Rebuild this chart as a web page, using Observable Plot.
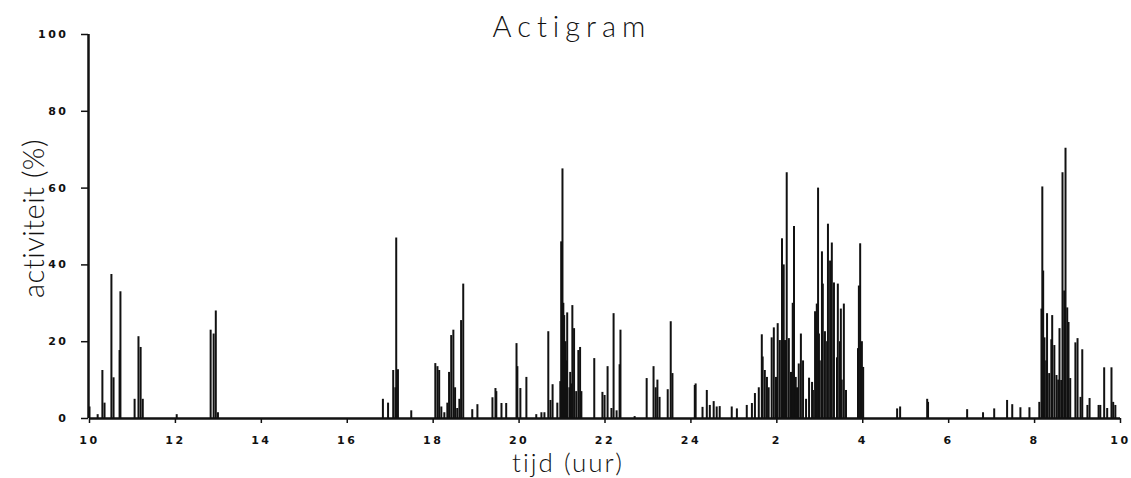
<!DOCTYPE html>
<html><head><meta charset="utf-8">
<script src="https://cdn.jsdelivr.net/npm/d3@7"></script>
<script src="https://cdn.jsdelivr.net/npm/@observablehq/plot@0.6"></script>
<style>
body{margin:0;background:#fff}#chart{width:1131px;height:478px}
#chart g[aria-label$="tick label"] text{letter-spacing:2.5px}
</style>
</head><body><div id="chart"></div>
<script>
// time of day in hours (10 = 10:00, 24 = midnight, 34 = 10:00 next day)
const times = [
10.00,10.19,10.30,10.35,10.51,10.56,10.70,10.72,11.05,11.14,11.19,11.24,12.03,12.82,12.89,12.94,12.99,
16.83,16.95,17.07,17.12,17.14,17.18,17.49,
18.05,18.10,18.14,18.19,18.26,18.33,18.37,18.42,18.47,18.51,18.56,18.61,18.65,18.70,18.91,19.03,
19.38,19.45,19.47,19.59,19.70,19.94,19.96,20.03,20.17,20.40,20.52,20.59,20.68,20.73,20.78,20.89,
20.96,20.98,21.01,21.03,21.05,21.08,21.10,21.12,21.17,21.19,21.22,21.24,21.28,21.33,21.38,21.42,21.45,
21.75,21.94,21.99,22.06,22.15,22.20,22.27,22.34,22.36,22.69,22.97,23.13,23.18,23.22,23.27,23.46,23.53,23.57,
24.09,24.11,24.27,24.37,24.44,24.53,24.60,24.67,24.95,25.07,25.30,25.42,25.49,25.58,
25.65,25.67,25.72,25.77,25.81,25.88,25.93,25.98,26.02,26.07,26.12,26.16,26.19,26.23,26.28,26.33,26.37,26.40,
26.44,26.47,26.51,26.56,26.61,26.68,26.75,26.82,26.84,26.89,26.93,26.96,26.98,27.00,27.05,27.07,27.12,27.17,
27.19,27.24,27.28,27.33,27.40,27.42,27.47,27.49,27.51,27.56,27.61,27.89,27.91,27.94,27.98,28.01,
28.80,28.87,29.50,29.52,30.43,30.80,31.06,31.36,31.48,31.67,31.88,
32.11,32.16,32.18,32.20,32.23,32.27,32.29,32.34,32.39,32.41,32.46,32.51,32.55,32.58,32.62,32.65,32.69,32.72,
32.76,32.79,32.83,32.95,33.00,33.07,33.11,33.23,33.28,33.49,33.53,33.62,33.69,33.79,33.83,33.88
];
// activity (%)
const values = [
3,1,12.5,4,37.5,10.6,17.7,33,5,21.3,18.5,5,1,23,22,28,1.5,
5,4,12.5,8,47,12.7,2,
14.3,13.5,12.5,3,1.5,4,12,21.6,23,8,2.6,5,25.5,35,2.3,3.6,
5.4,7.8,7,3.9,3.9,19.5,13.5,7.8,10.7,1,1.5,1.5,22.6,4.7,8.8,4,
9.6,46,65,30,26.8,20,15,27.5,8,12,9,29.4,23.4,7,17.7,18.5,7,
15.6,6.8,6,13.5,2.6,27.3,2,14,23,0.5,10.4,13.5,8,10,5.5,7.5,25.2,11.7,
8.6,9,2.9,7.3,3.4,4.4,3,3.1,3,2.5,3.4,3.9,6.5,8,
21.8,16,12.5,10.7,8,21,23.6,10.7,24.7,20.3,46.8,40,20.3,64,20.8,12,30,50,
10.7,8,14.2,22,15,5,10.5,9.4,7.3,27.8,29.8,60,22,15,43.4,35,22.6,20,
50.6,41,45.7,35.3,15.8,35,20,28.5,10,29.8,7.3,18.2,34.5,45.5,20,13.3,
2.5,3,5,4.2,2.3,1.5,2.5,4.7,3.6,2.8,2.8,
4.2,28.5,60.3,38.4,21,15,27.3,11.7,20.5,26.8,19,11.2,10,23.4,9.9,64,33.2,70.4,
28.8,25,10.4,19.7,20.8,5.5,17.9,3.4,5.2,3.4,3.4,13.2,2.6,13.2,4.2,3.4
];
const xTicks = [10,12,14,16,18,20,22,24,26,28,30,32,34];
const xTickLabels = ["10","12","14","16","18","20","22","24","2","4","6","8","10"];
const yTicks = [0,20,40,60,80,100];
const titleText = "Actigram";
const xLabel = "tijd (uur)";
const yLabel = "activiteit (%)";

const data = times.map((t, i) => ({t, v: values[i]}));
const ink = "#111";
const labelFont = {fontFamily: "Lato, 'Open Sans', sans-serif", fontWeight: 300, fill: ink};

const chart = Plot.plot({
  width: 1131, height: 478,
  marginLeft: 89, marginRight: 11, marginTop: 34, marginBottom: 60,
  style: {fontFamily: "'DejaVu Sans', sans-serif", fontSize: "11px", fontWeight: "bold", color: ink, background: "#fff"},
  x: {domain: [10, 34]},
  y: {domain: [0, 100]},
  marks: [
    Plot.ruleX(data, {x: "t", y1: 0, y2: "v", stroke: ink, strokeWidth: 2}),
    Plot.ruleY([0], {stroke: ink, strokeWidth: 2.5}),
    Plot.ruleX([10], {y1: 0, y2: 100, stroke: ink, strokeWidth: 2.5, dx: -1}),
    Plot.axisX({ticks: xTicks, tickFormat: d => xTickLabels[xTicks.indexOf(d)], tickSize: 5, tickPadding: 13, label: null, stroke: ink, strokeWidth: 1.5}),
    Plot.axisY({ticks: yTicks, tickSize: 7, tickPadding: 13, label: null, stroke: ink, strokeWidth: 1.5, dx: -1}),
    Plot.text([titleText], {frameAnchor: "top", dx: -33, dy: -7, textAnchor: "middle", lineAnchor: "middle", fontSize: 29, ...labelFont}),
    Plot.text([xLabel], {frameAnchor: "bottom", dx: -37, dy: 45, textAnchor: "middle", lineAnchor: "middle", fontSize: 26, ...labelFont}),
    Plot.text([yLabel], {frameAnchor: "left", dx: -55, dy: -8, rotate: -90, textAnchor: "middle", lineAnchor: "middle", fontSize: 29, ...labelFont})
  ]
});
document.getElementById("chart").appendChild(chart);
// letter spacing of the hand-lettered labels
const spacing = {[titleText]: "6px", [xLabel]: "2px", [yLabel]: "0.5px"};
d3.select(chart).selectAll("text").each(function () {
  const s = spacing[this.textContent];
  if (s) this.style.letterSpacing = s;
});
</script>
</body></html>
